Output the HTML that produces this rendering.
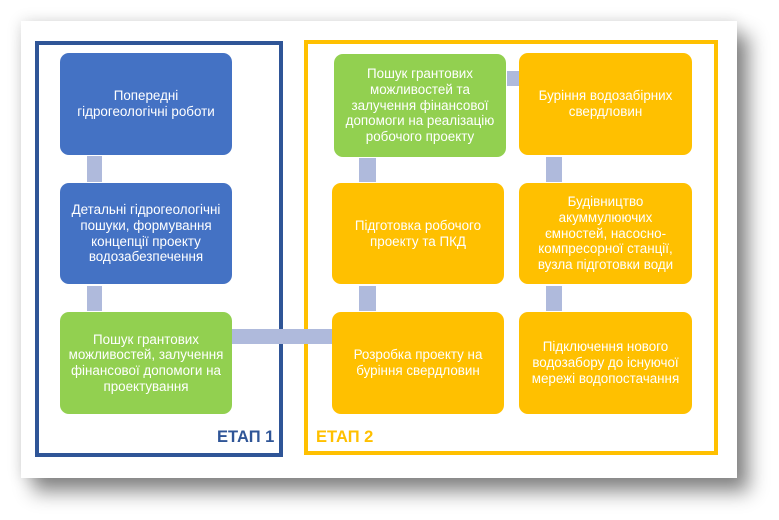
<!DOCTYPE html>
<html>
<head>
<meta charset="utf-8">
<style>
  html,body{margin:0;padding:0;}
  body{width:779px;height:520px;background:#ffffff;position:relative;overflow:hidden;font-family:"Liberation Sans","DejaVu Sans",sans-serif;}
  .card{position:absolute;left:21px;top:21px;width:716px;height:457px;background:#fff;
    box-shadow:12px 14px 18px rgba(0,0,0,0.45), 0 0 14px rgba(0,0,0,0.14);}
  .frame{position:absolute;box-sizing:border-box;}
  .f1{left:35px;top:41px;width:248px;height:416px;border:4px solid #2F5597;}
  .f2{left:304px;top:40px;width:414px;height:415px;border:4px solid #FFC000;}
  .box{position:absolute;box-sizing:border-box;border-radius:9px;color:#fff;font-size:13.4px;line-height:15.7px;
    display:flex;align-items:center;justify-content:center;text-align:center;white-space:nowrap;}
  .b{background:#4472C4;}
  .g{background:#92D050;}
  .y{background:#FFC000;}
  .c{position:absolute;background:#AFBADC;}
  .lbl{position:absolute;font-weight:bold;font-size:16.5px;line-height:16px;}
</style>
</head>
<body>
<div class="card"></div>
<div class="frame f1"></div>
<div class="frame f2"></div>

<!-- connectors -->
<div class="c" style="left:87px;top:156px;width:15px;height:26px;"></div>
<div class="c" style="left:87px;top:286px;width:15px;height:25px;"></div>
<div class="c" style="left:232px;top:329px;width:101px;height:15px;"></div>
<div class="c" style="left:359px;top:158px;width:17px;height:24px;"></div>
<div class="c" style="left:359px;top:286px;width:17px;height:25px;"></div>
<div class="c" style="left:507px;top:71px;width:12px;height:15px;"></div>
<div class="c" style="left:546px;top:157px;width:16px;height:25px;"></div>
<div class="c" style="left:546px;top:286px;width:16px;height:25px;"></div>

<!-- left column -->
<div class="box b" style="left:60px;top:53px;width:172px;height:102px;">Попередні<br>гідрогеологічні роботи</div>
<div class="box b" style="left:60px;top:183px;width:172px;height:101px;">Детальні гідрогеологічні<br>пошуки, формування<br>концепції проекту<br>водозабезпечення</div>
<div class="box g" style="left:60px;top:312px;width:172px;height:102px;">Пошук грантових<br>можливостей, залучення<br>фінансової допомоги на<br>проектування</div>

<!-- middle column -->
<div class="box g" style="left:334px;top:54px;width:172px;height:103px;">Пошук грантових<br>можливостей та<br>залучення фінансової<br>допомоги на реалізацію<br>робочого проекту</div>
<div class="box y" style="left:332px;top:183px;width:172px;height:101px;">Підготовка робочого<br>проекту та ПКД</div>
<div class="box y" style="left:332px;top:312px;width:172px;height:102px;">Розробка проекту на<br>буріння свердловин</div>

<!-- right column -->
<div class="box y" style="left:519px;top:53px;width:173px;height:102px;">Буріння водозабірних<br>свердловин</div>
<div class="box y" style="left:519px;top:183px;width:173px;height:101px;">Будівництво<br>акуммулюючих<br>ємностей, насосно-<br>компресорної станції,<br>вузла підготовки води</div>
<div class="box y" style="left:519px;top:312px;width:173px;height:102px;">Підключення нового<br>водозабору до існуючої<br>мережі водопостачання</div>

<div class="lbl" style="left:217px;top:429px;color:#2F5597;">ЕТАП 1</div>
<div class="lbl" style="left:316px;top:429px;color:#FFC000;">ЕТАП 2</div>
</body>
</html>
